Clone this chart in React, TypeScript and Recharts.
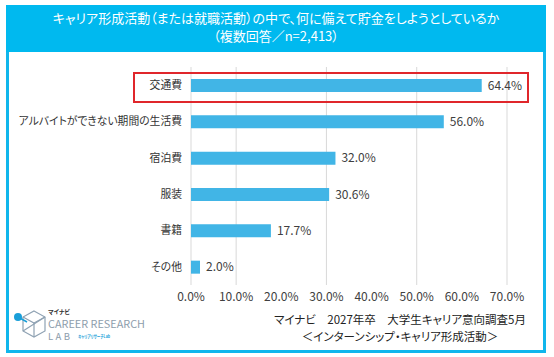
import { Bar, BarChart, CartesianGrid, LabelList, XAxis, YAxis } from "recharts";

const categories = [
  "交通費",
  "アルバイトができない期間の生活費",
  "宿泊費",
  "服装",
  "書籍",
  "その他"
];
const shares = [64.4, 56.0, 32.0, 30.6, 17.7, 2.0];
const xTicks = [0, 10, 20, 30, 40, 50, 60, 70];

const titleLines = [
  "キャリア形成活動（または就職活動）の中で、何に備えて貯金をしようとしているか",
  "（複数回答／n=2,413）"
];
const sourceLines = [
  "マイナビ　2027年卒　大学生キャリア意向調査5月",
  "＜インターンシップ・キャリア形成活動＞"
];

const data = categories.map((label, i) => ({ label, value: shares[i] }));

const FONT = '"Noto Sans CJK JP", "Noto Sans", sans-serif';
const CYAN = "#10b6ec";
const BAR = "#41b5e6";
const pct = (v: number) => `${v.toFixed(1)}%`;

function Logo() {
  return (
    <svg width={160} height={50} style={{ position: "absolute", left: 0, top: 305 }}>
      <g transform="translate(0,-305)" fontFamily={FONT}>
        {/* cube outline */}
        <g fill="none" stroke="#8fa2b3" strokeWidth={1.2}>
          <polygon points="34,311 45,317 45,331 34,337 23,331 23,317" />
          <polyline points="23,317 34,323 45,317" />
          <line x1={34} y1={323} x2={34} y2={337} />
          <line x1={23} y1={331} x2={45} y2={317} />
        </g>
        <line x1={18} y1={317} x2={27} y2={322} stroke="#1a9fd9" strokeWidth={1.5} />
        <circle cx={18} cy={317} r={4} fill="#1a9fd9" />
        <text x={48} y={314} fontSize={6} fontWeight={700} fill="#333">
          マイナビ
        </text>
        <text
          x={48}
          y={327.5}
          fontSize={10}
          fill="#8d9dac"
          textLength={97}
          lengthAdjust="spacingAndGlyphs"
        >
          CAREER RESEARCH
        </text>
        <text x={48} y={340} fontSize={9.5} fill="#8d9dac" textLength={22} lengthAdjust="spacing">
          LAB
        </text>
        <text
          x={78}
          y={338}
          fontSize={5}
          fontWeight={700}
          fill="#1a9fd9"
          textLength={32}
          lengthAdjust="spacingAndGlyphs"
        >
          キャリアリサーチLab
        </text>
      </g>
    </svg>
  );
}

export default function App() {
  return (
    <div
      style={{
        position: "absolute",
        left: 0,
        top: 0,
        width: 554,
        height: 357,
        background: "#fff",
        fontFamily: FONT,
        fontFeatureSettings: '"palt"',
        overflow: "hidden"
      }}
    >
      {/* frame */}
      <div
        style={{
          position: "absolute",
          left: 6,
          top: 5,
          width: 540,
          height: 348,
          border: `3px solid ${CYAN}`,
          boxSizing: "border-box"
        }}
      />
      {/* title band */}
      <div
        style={{
          position: "absolute",
          left: 6,
          top: 5,
          width: 540,
          height: 47,
          background: "#00b9ef",
          color: "#fff",
          fontSize: 13,
          lineHeight: "17.5px",
          textAlign: "center",
          paddingTop: 4,
          boxSizing: "border-box"
        }}
      >
        {titleLines.map((t) => (
          <div key={t}>{t}</div>
        ))}
      </div>

      <div style={{ position: "absolute", left: 0, top: 0 }}>
        <BarChart
          width={554}
          height={357}
          data={data}
          layout="vertical"
          margin={{ top: 67, right: 47, left: 0, bottom: 42 }}
          barSize={13}
        >
          <CartesianGrid horizontal={false} stroke="#d9d9d9" />
          <XAxis
            type="number"
            domain={[0, 70]}
            ticks={xTicks}
            tickFormatter={pct}
            axisLine={false}
            tickLine={false}
            tickMargin={1}
            height={30}
            tick={{ fontSize: 12, fill: "#404040", fontFamily: FONT }}
          />
          <YAxis
            type="category"
            dataKey="label"
            width={191}
            axisLine={false}
            tickLine={false}
            tickMargin={3}
            tick={{ fontSize: 10.8, fill: "#333", fontFamily: FONT }}
          />
          <Bar dataKey="value" fill={BAR} isAnimationActive={false}>
            <LabelList
              dataKey="value"
              position="right"
              offset={6}
              formatter={(v: any) => pct(Number(v))}
              style={{ fontSize: 12, fill: "#404040", fontFamily: FONT }}
            />
          </Bar>
        </BarChart>
      </div>

      {/* highlight box */}
      <div
        style={{
          position: "absolute",
          left: 133,
          top: 72,
          width: 396,
          height: 31,
          border: "2px solid #e0262b",
          boxSizing: "border-box"
        }}
      />

      <Logo />

      <div
        style={{
          position: "absolute",
          left: 250,
          top: 311,
          width: 300,
          fontSize: 11.5,
          lineHeight: "16.7px",
          color: "#222",
          textAlign: "center"
        }}
      >
        {sourceLines.map((t) => (
          <div key={t}>{t}</div>
        ))}
      </div>
    </div>
  );
}
